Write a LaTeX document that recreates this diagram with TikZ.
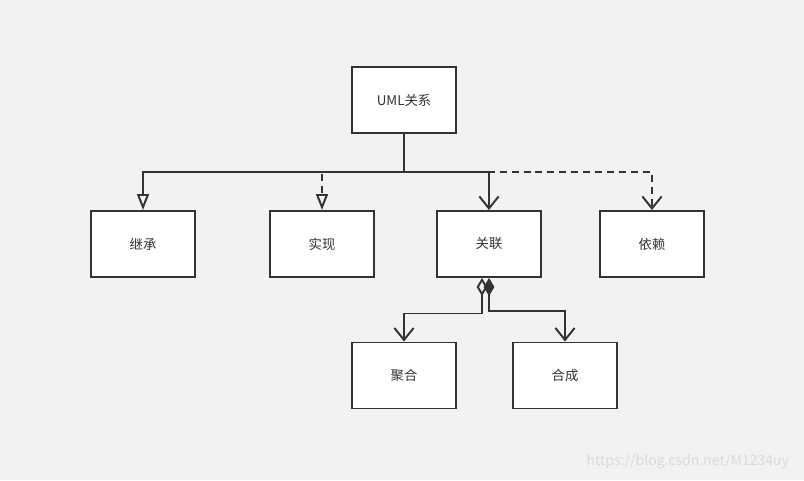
\documentclass[tikz,border=0pt]{standalone}
\usepackage{fontspec}
\setmainfont{Noto Sans CJK SC}
\usetikzlibrary{arrows.meta}
\definecolor{bggray}{HTML}{F2F2F2}
\definecolor{linegray}{HTML}{333333}
\definecolor{markgray}{HTML}{DADADA}
\begin{document}
\begin{tikzpicture}[font=\fontsize{9.5}{11}\selectfont, line join=miter, >=stealth,
	umlbox/.style={draw=linegray, line width=1.4pt, fill=white, minimum width=2.6cm, minimum height=1.65cm, text=linegray},
	link/.style={draw=linegray, line width=1.4pt},
	dashlink/.style={link, dash pattern=on 5pt off 3.5pt},
	inherit/.style={-{Triangle[open, length=0.4cm, width=0.3cm]}},
	assoc/.style={-{Straight Barb[length=0.3cm, width=0.48cm]}}]
	\fill[bggray] (0,0) rectangle (20.1,12);
	\useasboundingbox (0,0) rectangle (20.1,12);
	% boxes
	\node[umlbox] (uml) at (10.1,9.5) {UML关系};
	\node[umlbox] (jc) at (3.575,5.9) {继承};
	\node[umlbox] (sx) at (8.05,5.9) {实现};
	\node[umlbox] (gl) at (12.225,5.9) {关联};
	\node[umlbox] (yl) at (16.3,5.9) {依赖};
	\node[umlbox] (jh) at (10.1,2.6125) {聚合};
	\node[umlbox] (hc) at (14.125,2.6125) {合成};
	\coordinate (bus) at (10.1,7.7);
	% dashed first, solid on top
	\draw[dashlink, inherit] (bus) -| (sx.north);
	\draw[dashlink, assoc] (bus) -| (yl.north);
	\draw[link, inherit] (uml.south) -- (bus) -| (jc.north);
	\draw[link, assoc] (bus) -| (gl.north);
	% aggregation / composition
	\draw[link, {Diamond[open, length=0.45cm, width=0.27cm]}-{Straight Barb[length=0.3cm, width=0.48cm]}]
		([xshift=-0.175cm]gl.south) -- ++(0,-0.8875) -| (jh.north);
	\draw[link, {Diamond[fill=linegray, length=0.45cm, width=0.27cm]}-{Straight Barb[length=0.3cm, width=0.48cm]}]
		(gl.south) -- ++(0,-0.825) -| (hc.north);
	\node[anchor=east, text=markgray, font=\fontsize{10}{12}\selectfont] (mark) at (19.85,0.45) {https://blog.csdn.net/M1234uy};
\end{tikzpicture}
\end{document}
